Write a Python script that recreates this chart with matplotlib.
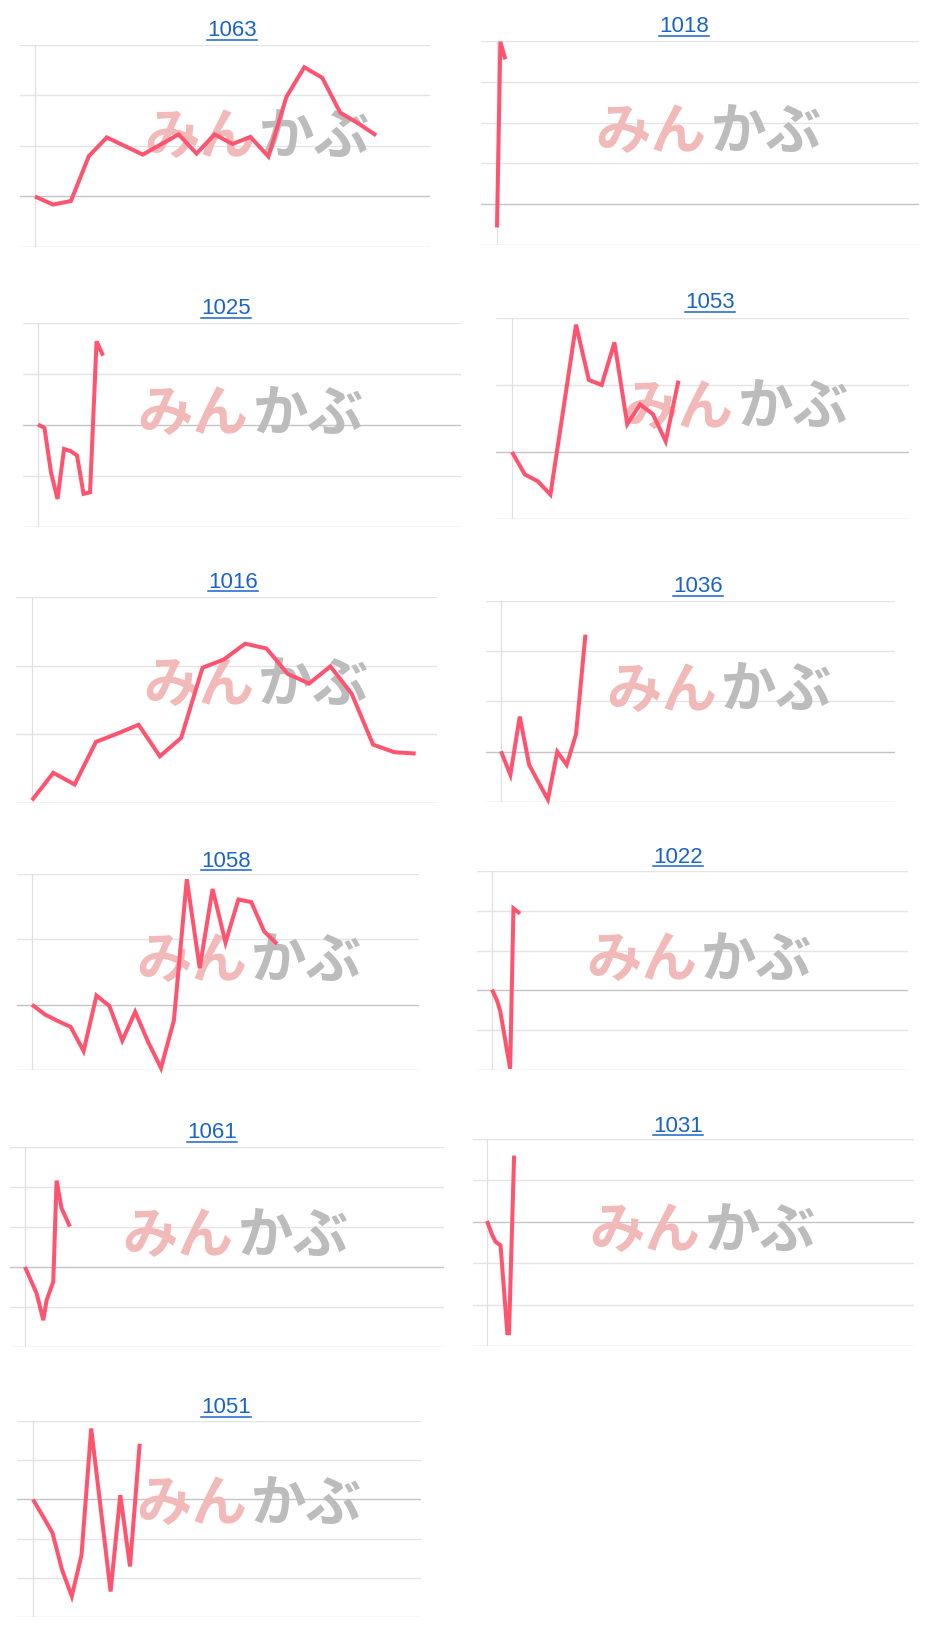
import matplotlib
matplotlib.use("Agg")
import matplotlib.pyplot as plt
from matplotlib.lines import Line2D

plt.rcParams['font.family'] = ['Liberation Sans', 'Noto Sans CJK JP', 'DejaVu Sans']

W, H = 927, 1642

# series values (y); x = point index or trading day
y_1063 = [0.0, -0.16, -0.09, 0.80, 1.17, 1.00, 0.83, 1.03, 1.23, 0.85, 1.23, 1.04, 1.18, 0.79, 1.97, 2.56, 2.35, 1.66, 1.45, 1.21]
x_1018 = [0, 2, 5]
y_1018 = [-0.57, 3.98, 3.55]
y_1025 = [0.01, -0.06, -0.93, -1.45, -0.47, -0.51, -0.60, -1.35, -1.32, 1.64, 1.36]
y_1053 = [0.0, -0.335, -0.435, -0.635, 0.625, 1.9, 1.075, 1.0, 1.635, 0.415, 0.71, 0.565, 0.16, 1.065]
y_1016 = [0.04, 0.44, 0.27, 0.89, 1.01, 1.14, 0.68, 0.95, 1.97, 2.09, 2.32, 2.25, 1.88, 1.74, 1.99, 1.59, 0.85, 0.74, 0.72]
y_1036 = [0.01, -0.46, 0.70, -0.26, -0.61, -0.95, 0.0, -0.26, 0.35, 2.33]
y_1058 = [0.0, -0.15, -0.25, -0.34, -0.71, 0.14, -0.02, -0.55, -0.11, -0.57, -0.97, -0.24, 1.92, 0.56, 1.77, 0.95, 1.61, 1.57, 1.12, 0.93]
x_1022 = [0, 3, 5, 11, 13, 17]
y_1022 = [0.02, -0.25, -0.52, -1.97, 2.06, 1.93]
x_1061 = [0, 7, 11, 13, 17, 19, 22, 27]
y_1061 = [0.0, -0.66, -1.33, -0.83, -0.37, 2.16, 1.47, 1.01]
x_1031 = [0, 3, 5, 8, 12, 13, 16]
y_1031 = [0.02, -0.31, -0.48, -0.57, -2.69, -2.69, 1.60]
y_1051 = [0.0, -0.42, -0.85, -1.80, -2.47, -1.42, 1.81, -0.27, -2.35, 0.11, -1.71, 1.42]

codes = ['1063', '1018', '1025', '1053', '1016', '1036', '1058', '1022', '1061', '1031', '1051']
xs = [None, x_1018, None, None, None, None, None, x_1022, x_1061, x_1031, None]
ys = [y_1063, y_1018, y_1025, y_1053, y_1016, y_1036, y_1058, y_1022, y_1061, y_1031, y_1051]
x_max = [22, 252, 65, 31, 19, 42, 30, 252, 252, 252, 40]
y_range = [(-1, 3), (-1, 4), (-2, 2), (-1, 2), (0, 3), (-1, 3), (-1, 2), (-2, 3), (-2, 3), (-3, 2), (-3, 2)]

# layout in pixels: grid left, top, right, bottom, axis x, title x, title y
boxes = [
    (20, 45, 430, 247, 35, 232, 31),
    (481, 41, 919, 245, 497, 684, 27),
    (23, 323, 461, 527, 38, 226, 309),
    (496, 318, 909, 519, 512, 710, 303),
    (16, 597, 437, 803, 32, 233, 582),
    (486, 601, 895, 802, 501, 698, 587),
    (17, 874, 419, 1070, 32, 226, 861),
    (477, 871, 908, 1070, 492, 678, 857),
    (10, 1147, 444, 1347, 25, 212, 1132),
    (473, 1139, 914, 1346, 487, 678, 1126),
    (17, 1421, 421, 1617, 33, 226, 1407),
]
# watermark centre, as axes fraction
wm_pos = [(0.578, 0.54), (0.52, 0.55), (0.52, 0.55), (0.58, 0.55), (0.57, 0.57),
          (0.57, 0.55), (0.577, 0.55), (0.515, 0.55), (0.52, 0.55), (0.52, 0.55), (0.574, 0.57)]

line_col = '#ff5470'
link_col = '#1a64c8'

fig = plt.figure(figsize=(W / 100, H / 100), dpi=100)
titles = []

for i in range(len(codes)):
    gl, gt, gr, gb, axx, tx, ty = boxes[i]
    ax = fig.add_axes([gl / W, 1 - gb / H, (gr - gl) / W, (gb - gt) / H])
    xmax = x_max[i]
    pad = (axx - gl) / ((gr - axx) / xmax)
    ax.set_xlim(-pad, xmax)
    lo, hi = y_range[i]
    ax.set_ylim(lo, hi)
    ax.axis('off')
    for v in range(lo, hi + 1):
        if v == 0:
            c = '#c4c4c4'
        elif v == lo:
            c = '#d4d4d4'
        else:
            c = '#e4e4e4'
        ax.axhline(v, color=c, lw=1.0, zorder=1)
    ax.axvline(0, color='#e0e0e0', lw=0.9, zorder=1)

    # watermark
    wx, wy = wm_pos[i]
    ax.text(wx - 0.005, wy, 'みん', transform=ax.transAxes, ha='right', va='center',
            fontsize=40, fontweight='bold', color='#f2b9b9', zorder=2,
            family=['Noto Sans CJK JP'])
    ax.text(wx + 0.005, wy, 'かぶ', transform=ax.transAxes, ha='left', va='center',
            fontsize=40, fontweight='bold', color='#bcbcbc', zorder=2,
            family=['Noto Sans CJK JP'])

    y = ys[i]
    x = xs[i] if xs[i] is not None else list(range(len(y)))
    ax.plot(x, y, color=line_col, lw=2.9, solid_joinstyle='miter',
            solid_capstyle='butt', zorder=3, clip_on=False)

    t = fig.text(tx / W, 1 - ty / H, codes[i], ha='center', va='center',
                 fontsize=16, color=link_col)
    titles.append(t)

# underline the link titles
fig.canvas.draw()
r = fig.canvas.get_renderer()
for t in titles:
    bb = t.get_window_extent(renderer=r)
    yline = (bb.y0 + 1) / H
    fig.add_artist(Line2D([bb.x0 / W, bb.x1 / W], [yline, yline],
                          color=link_col, lw=1.1, transform=fig.transFigure))

fig.savefig('out.png', dpi=100, facecolor='white')
